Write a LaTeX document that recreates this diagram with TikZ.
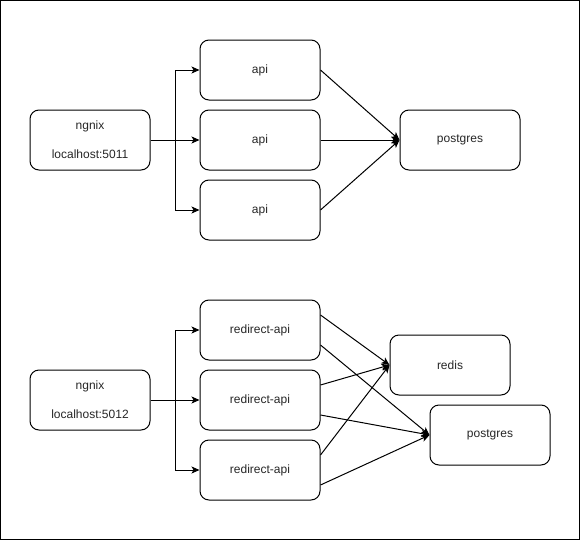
\documentclass[tikz,border=0pt]{standalone}
\usepackage{fontspec}
\setmainfont{Liberation Sans}
\usetikzlibrary{arrows.meta}
\begin{document}
\begin{tikzpicture}[x=1pt,y=-1pt,
  box/.style={draw=black,line width=1pt,rounded corners=9pt,minimum width=120pt,minimum height=60pt,inner sep=0pt,align=center,font=\fontsize{12}{14.5}\selectfont,text=black!85},
  conn/.style={draw=black,line width=1pt,-{Stealth[length=8pt,width=7pt,inset=2pt]}}]
\useasboundingbox (0,0) rectangle (581,541);
\draw[line width=1pt] (0.5,0.5) rectangle (579.5,539.5);
% top group
\node[box] (ng1) at (90,140) {ngnix\\[14.5pt]localhost:5011};
\node[box] (a1) at (260,70) {api};
\node[box] (a2) at (260,140) {api};
\node[box] (a3) at (260,210) {api};
\node[box] (pg1) at (460,140) {postgres};
\draw[conn] (ng1.east) -- ++(25,0) |- (a1.west);
\draw[conn] (ng1.east) -- (a2.west);
\draw[conn] (ng1.east) -- ++(25,0) |- (a3.west);
\draw[conn] (a1.east) -- (pg1.west);
\draw[conn] (a2.east) -- (pg1.west);
\draw[conn] (a3.east) -- (pg1.west);
% bottom group
\node[box] (ng2) at (90,400) {ngnix\\[14.5pt]localhost:5012};
\node[box] (r1) at (260,330) {redirect-api};
\node[box] (r2) at (260,400) {redirect-api};
\node[box] (r3) at (260,470) {redirect-api};
\node[box] (rd) at (450,365) {redis};
\node[box] (pg2) at (490,435) {postgres};
\draw[conn] (ng2.east) -- ++(25,0) |- (r1.west);
\draw[conn] (ng2.east) -- (r2.west);
\draw[conn] (ng2.east) -- ++(25,0) |- (r3.west);
\draw[conn] ([yshift=15pt]r1.east) -- (rd.west);
\draw[conn] ([yshift=-15pt]r1.east) -- (pg2.west);
\draw[conn] ([yshift=15pt]r2.east) -- (rd.west);
\draw[conn] ([yshift=-15pt]r2.east) -- (pg2.west);
\draw[conn] ([yshift=15pt]r3.east) -- (rd.west);
\draw[conn] ([yshift=-15pt]r3.east) -- (pg2.west);
\end{tikzpicture}
\end{document}
